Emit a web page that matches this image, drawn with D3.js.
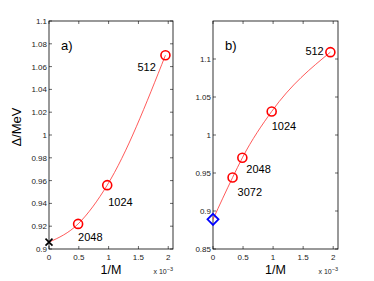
<!DOCTYPE html>
<html><head><meta charset="utf-8">
<script src="https://cdn.jsdelivr.net/npm/d3@7"></script>
<style>body{margin:0;background:#fff}svg{display:block}text{font-family:"Liberation Sans",Arial,sans-serif}</style>
</head><body>
<script>
// 1/M in units of 1e-3
const labelsA = ["2048","1024","512"];
const xA = [1/2.048, 1/1.024, 1/0.512];
const yA = [0.922, 0.956, 1.070];
const extrapA = [0, 0.906];
const labelsB = ["3072","2048","1024","512"];
const xB = [1/3.072, 1/2.048, 1/1.024, 1/0.512];
const yB = [0.944, 0.970, 1.031, 1.109];
const extrapB = [0, 0.889];
const xTicks = [0, 0.5, 1, 1.5, 2];
const yTicksA = [0.9,0.92,0.94,0.96,0.98,1,1.02,1.04,1.06,1.08,1.1];
const yTicksB = [0.85,0.9,0.95,1,1.05,1.1];

const W=374,H=281;
const svg=d3.select("body").append("svg").attr("width",W).attr("height",H);

function panel(o){
  const x=d3.scaleLinear().domain([0,2.08]).range([o.x0,o.x1]);
  const y=d3.scaleLinear().domain(o.ydom).range([249,21]);
  const g=svg.append("g");
  const tl=3;
  xTicks.forEach(t=>{
    g.append("line").attr("x1",x(t)).attr("x2",x(t)).attr("y1",249).attr("y2",249-tl).attr("stroke","#000").attr("stroke-width",0.6);
    g.append("line").attr("x1",x(t)).attr("x2",x(t)).attr("y1",21).attr("y2",21+tl).attr("stroke","#000").attr("stroke-width",0.6);
    g.append("text").attr("x",x(t)).attr("y",259.5).attr("text-anchor","middle").attr("font-size",8).attr("fill","#222").text(d3.format("")(t));
  });
  o.yticks.forEach(t=>{
    g.append("line").attr("x1",o.x0).attr("x2",o.x0+tl).attr("y1",y(t)).attr("y2",y(t)).attr("stroke","#000").attr("stroke-width",0.6);
    g.append("line").attr("x1",o.x1).attr("x2",o.x1-tl).attr("y1",y(t)).attr("y2",y(t)).attr("stroke","#000").attr("stroke-width",0.6);
    g.append("text").attr("x",o.x0-2).attr("y",y(t)+3).attr("text-anchor","end").attr("font-size",8).attr("fill","#222").text(d3.format("")(+t.toFixed(2)));
  });
  g.append("rect").attr("x",o.x0).attr("y",21).attr("width",o.x1-o.x0).attr("height",228).attr("fill","none").attr("stroke","#000").attr("stroke-width",0.8);
  const pts=[[o.ex[0],o.ex[1]]].concat(o.xs.map((v,i)=>[v,o.ys[i]]));
  g.append("path").attr("d",d3.line().x(d=>x(d[0])).y(d=>y(d[1])).curve(d3.curveMonotoneX)(pts))
   .attr("fill","none").attr("stroke","#ff3030").attr("stroke-width",0.8);
  o.xs.forEach((v,i)=>{
    g.append("circle").attr("cx",x(v)).attr("cy",y(o.ys[i])).attr("r",4.5).attr("fill","none").attr("stroke","#ff0000").attr("stroke-width",1.6);
    g.append("text").attr("x",x(v)+o.lab[i][0]).attr("y",y(o.ys[i])+o.lab[i][1]).attr("font-size",11).attr("fill","#000").text(o.labels[i]);
  });
  o.mark(g,x(o.ex[0]),y(o.ex[1]));
  g.append("text").attr("x",o.x0+12).attr("y",50).attr("font-size",13).text(o.tag);
  g.append("text").attr("x",(o.x0+o.x1)/2).attr("y",274).attr("text-anchor","middle").attr("font-size",12.5).text("1/M");
  const e=g.append("text").attr("x",o.x1).attr("y",274).attr("text-anchor","end").attr("font-size",7).attr("fill","#222");
  e.append("tspan").text("x 10");
  e.append("tspan").attr("dy",-3).attr("font-size",5.5).text("−3");
}

panel({x0:49,x1:173,ydom:[0.9,1.1],yticks:yTicksA,xs:xA,ys:yA,ex:extrapA,labels:labelsA,tag:"a)",
  lab:[[0,17],[1,21],[-28,16]],
  mark:(g,cx,cy)=>{const s=3.5;g.append("path").attr("d",`M${cx-s},${cy-s}L${cx+s},${cy+s}M${cx-s},${cy+s}L${cx+s},${cy-s}`).attr("stroke","#000").attr("stroke-width",1.6);} });
panel({x0:213,x1:338,ydom:[0.85,1.15],yticks:yTicksB,xs:xB,ys:yB,ex:extrapB,labels:labelsB,tag:"b)",
  lab:[[5,18.5],[4,15],[0,19],[-25,3]],
  mark:(g,cx,cy)=>{const s=5.5;g.append("path").attr("d",`M${cx},${cy-s}L${cx+s},${cy}L${cx},${cy+s}L${cx-s},${cy}Z`).attr("fill","none").attr("stroke","#0000ff").attr("stroke-width",1.8);} });

svg.append("text").attr("transform","translate(21,127) rotate(-90)").attr("text-anchor","middle").attr("font-size",13).text("Δ/MeV");
</script>
</body></html>
